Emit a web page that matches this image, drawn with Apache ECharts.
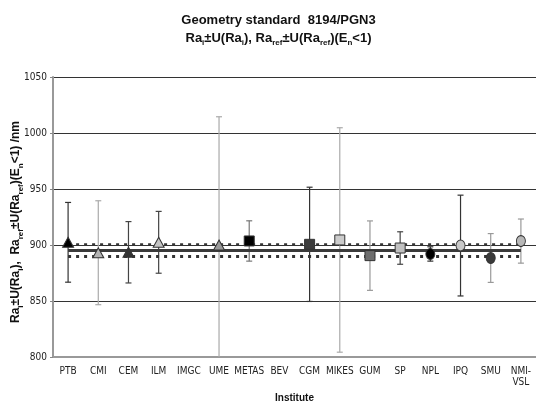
<!DOCTYPE html>
<html>
<head>
<meta charset="utf-8">
<script src="https://cdn.jsdelivr.net/npm/echarts@6/dist/echarts.min.js"></script>
<style>
  html, body { margin: 0; padding: 0; background: #fff; }
  #chart { width: 536px; height: 404px; }
</style>
</head>
<body>
<div id="chart"></div>
<script>
const institutes = ["PTB", "CMI", "CEM", "ILM", "IMGC", "UME", "METAS", "BEV", "CGM", "MIKES", "GUM", "SP", "NPL", "IPQ", "SMU", "NMI-VSL"];
const raValues = [902.4, 893.1, 893.5, 902.4, null, 900.0, 903.6, null, 900.6, 904.5, 890.5, 897.3, 892.0, 899.5, 888.4, 903.5];
const raU = [35.6, 46.4, 27.4, 27.6, null, 114.5, 18.0, null, 51.0, 100.2, 31.0, 14.5, 6.4, 45.0, 21.8, 19.7];
const raRef = 895.3;
const uRef = 5.0;
const yTicks = [800, 850, 900, 950, 1000, 1050];

// marker look per institute
const markerShapes = ["triangle", "triangle", "triangle", "triangle", null, "triangle", "rect", null, "rect", "rect", "rect", "rect", "circle", "circle", "circle", "circle"];
const markerColors = ["#000", "#b4b4b4", "#333", "#c4c4c4", null, "#9a9a9a", "#000", null, "#3c3c3c", "#cccccc", "#6e6e6e", "#c0c0c0", "#000", "#c8c8c8", "#3a3a3a", "#b8b8b8"];
const barColors = ["#333", "#aaa", "#444", "#444", null, "#aaa", "#777", null, "#333", "#aaa", "#999", "#444", "#333", "#333", "#999", "#999"];

const chart = echarts.init(document.getElementById("chart"));

const barData = [];
const pointData = [];
institutes.forEach((name, i) => {
  if (raValues[i] == null) return;
  barData.push({ value: [i, raValues[i] - raU[i], raValues[i] + raU[i]], itemStyle: { color: barColors[i] } });
  pointData.push({
    value: [i, raValues[i]],
    symbol: markerShapes[i],
    symbolSize: markerShapes[i] === "circle" ? [9, 11] : markerShapes[i] === "rect" ? [10, 10] : [11, 10],
    itemStyle: { color: markerColors[i] },
  });
});

const FONT = "'Liberation Sans', Arial, sans-serif";
const NARROW = "'Liberation Sans Narrow', 'Arial Narrow', 'DejaVu Sans Condensed', sans-serif";

const boldRich = (size, subSize) => ({
  n: { fontFamily: FONT, fontWeight: "bold", fontSize: size, lineHeight: size + 5, fill: "#111" },
  s: { fontFamily: FONT, fontWeight: "bold", fontSize: subSize, verticalAlign: "bottom", fill: "#111" },
});

chart.setOption({
  animation: false,
  graphic: [
    {
      type: "text",
      x: 278.5,
      y: 11,
      style: {
        text: "{n|Geometry standard  8194/PGN3}\n{n|Ra}{s|i}{n|±U(Ra}{s|i}{n|), Ra}{s|ref}{n|±U(Ra}{s|ref}{n|)(E}{s|n}{n|<1)}",
        align: "center",
        verticalAlign: "top",
        rich: boldRich(13, 8),
      },
    },
    {
      type: "text",
      x: 16,
      y: 222,
      rotation: Math.PI / 2,
      style: {
        text: "{n|Ra}{s|i}{n|±U(Ra}{s|i}{n|),  Ra}{s|ref}{n|±U(Ra}{s|ref}{n|)(E}{s|n}{n|<1) /nm}",
        align: "center",
        verticalAlign: "middle",
        rich: boldRich(12, 8),
      },
    },
  ],
  grid: { left: 53, right: 0, top: 77, bottom: 47, containLabel: false, outerBoundsMode: "none" },
  xAxis: {
    type: "category",
    data: institutes,
    name: "Institute",
    nameLocation: "middle",
    nameGap: 30,
    nameTextStyle: { fontFamily: FONT, fontWeight: "bold", fontSize: 10, color: "#111" },
    axisLine: { lineStyle: { color: "#999", width: 2 } },
    axisTick: { length: 3, lineStyle: { color: "#888" } },
    axisLabel: {
      interval: 0,
      margin: 9,
      fontFamily: NARROW,
      fontSize: 10,
      lineHeight: 11,
      color: "#222",
      formatter: (v) => v.replace("-", "-\n"),
    },
    splitLine: { show: false },
  },
  yAxis: {
    type: "value",
    min: yTicks[0],
    max: yTicks[yTicks.length - 1],
    interval: 50,
    axisLine: { show: true, lineStyle: { color: "#999", width: 2 } },
    axisTick: { show: true, length: 3, lineStyle: { color: "#888" } },
    axisLabel: { margin: 6, fontFamily: NARROW, fontSize: 10, color: "#222", formatter: (v) => String(v) },
    splitLine: { lineStyle: { color: "#333", width: 1 } },
  },
  series: [
    {
      type: "line",
      data: [],
      silent: true,
      markLine: {
        symbol: "none",
        silent: true,
        label: { show: false },
        data: [
          [{ coord: [0, raRef + uRef], lineStyle: { color: "#333", width: 2.5, type: [3, 5] } }, { coord: [institutes.length - 1, raRef + uRef] }],
          [{ coord: [0, raRef], lineStyle: { color: "#3a3a3a", width: 3, type: "solid" } }, { coord: [institutes.length - 1, raRef] }],
          [{ coord: [0, raRef - uRef], lineStyle: { color: "#333", width: 3, type: [3, 5] } }, { coord: [institutes.length - 1, raRef - uRef] }],
        ],
      },
    },
    {
      type: "custom",
      clip: true,
      silent: true,
      data: barData,
      renderItem: (params, api) => {
        const low = api.coord([api.value(0), api.value(1)]);
        const high = api.coord([api.value(0), api.value(2)]);
        const style = { stroke: api.visual("color"), lineWidth: 1.2 };
        return {
          type: "group",
          children: [
            { type: "line", shape: { x1: high[0], y1: high[1], x2: low[0], y2: low[1] }, style },
            { type: "line", shape: { x1: high[0] - 3, y1: high[1], x2: high[0] + 3, y2: high[1] }, style },
            { type: "line", shape: { x1: low[0] - 3, y1: low[1], x2: low[0] + 3, y2: low[1] }, style },
          ],
        };
      },
    },
    {
      type: "scatter",
      data: pointData,
      silent: true,
      itemStyle: { borderColor: "#333", borderWidth: 1, opacity: 1 },
      z: 5,
    },
  ],
});
</script>
</body>
</html>
